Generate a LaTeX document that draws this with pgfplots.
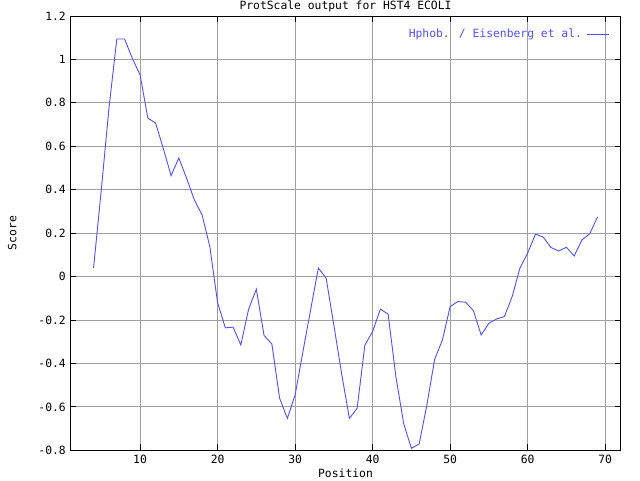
\documentclass[border=0pt]{standalone}
\usepackage{pgfplots}
\pgfplotsset{compat=1.18}
\usepackage{fontspec}
\setmainfont{DejaVu Sans Mono}
\definecolor{lineblue}{RGB}{80,80,255}
\definecolor{gridgray}{RGB}{160,160,160}
\begin{document}
\begin{tikzpicture}
\begin{axis}[
  name=ax,
  scale only axis,
  width=550.4bp, height=434.3bp,
  xmin=1, xmax=72, ymin=-0.8, ymax=1.2,
  xtick={10,20,30,40,50,60,70},
  xticklabels={10,20,30,40,50,60,70},
  ytick={-0.8,-0.6,-0.4,-0.2,0,0.2,0.4,0.6,0.8,1,1.2},
  yticklabels={-0.8,-0.6,-0.4,-0.2,0,0.2,0.4,0.6,0.8,1,1.2},
  tick align=inside,
  major tick length=6bp,
  tick style={black, line width=0.8bp},
  grid=major,
  major grid style={gridgray, line width=0.8bp},
  axis line style={black, line width=0.9bp},
  font=\fontsize{11.4}{12}\selectfont,
  every tick label/.append style={font=\fontsize{11.4}{12}\selectfont},
  xticklabel style={yshift=-1bp},
  yticklabel style={xshift=-1bp},
  every axis title shift=0pt,
  title={ProtScale output for HST4 ECOLI},
  title style={at={(0.5,1)}, anchor=center, yshift=10bp, inner sep=0pt},
  xlabel={Position},
  xlabel style={at={(0.5,0)}, anchor=center, yshift=-23bp, inner sep=0pt},
  ylabel={Score},
  ylabel style={at={(0,0.5)}, anchor=center, yshift=58bp, inner sep=0pt},
  legend plot pos=right,
  legend image code/.code={\draw[#1] (0bp,0bp) -- (22bp,0bp);},
  legend style={at={(0.9853,0.979)}, anchor=north east, draw=none, fill=none,
    text=lineblue, font=\fontsize{11.4}{12}\selectfont,
    nodes={inner xsep=4.5bp}},
  legend cell align=right,
]
\addplot[lineblue, line width=0.9bp, mark=none] coordinates {
(4,0.040) (5,0.400) (6,0.780) (7,1.094) (8,1.094) (9,1.005) (10,0.929)
(11,0.730) (12,0.707) (13,0.590) (14,0.465) (15,0.546) (16,0.453) (17,0.353)
(18,0.284) (19,0.138) (20,-0.120) (21,-0.236) (22,-0.233) (23,-0.315)
(24,-0.150) (25,-0.058) (26,-0.272) (27,-0.310) (28,-0.560) (29,-0.653)
(30,-0.545) (31,-0.347) (32,-0.153) (33,0.039) (34,-0.007) (35,-0.224)
(36,-0.447) (37,-0.653) (38,-0.607) (39,-0.315) (40,-0.253) (41,-0.150)
(42,-0.173) (43,-0.461) (44,-0.676) (45,-0.791) (46,-0.771) (47,-0.591)
(48,-0.381) (49,-0.292) (50,-0.138) (51,-0.115) (52,-0.118) (53,-0.157)
(54,-0.269) (55,-0.215) (56,-0.195) (57,-0.184) (58,-0.092) (59,0.039)
(60,0.108) (61,0.195) (62,0.182) (63,0.134) (64,0.118) (65,0.135)
(66,0.095) (67,0.169) (68,0.197) (69,0.274)
};
\addlegendentry{Hphob. / Eisenberg et al.}
\end{axis}
\path ([xshift=-70.3bp,yshift=-29.7bp]ax.south west) rectangle ([xshift=19.3bp,yshift=16bp]ax.north east);
\end{tikzpicture}
\end{document}
